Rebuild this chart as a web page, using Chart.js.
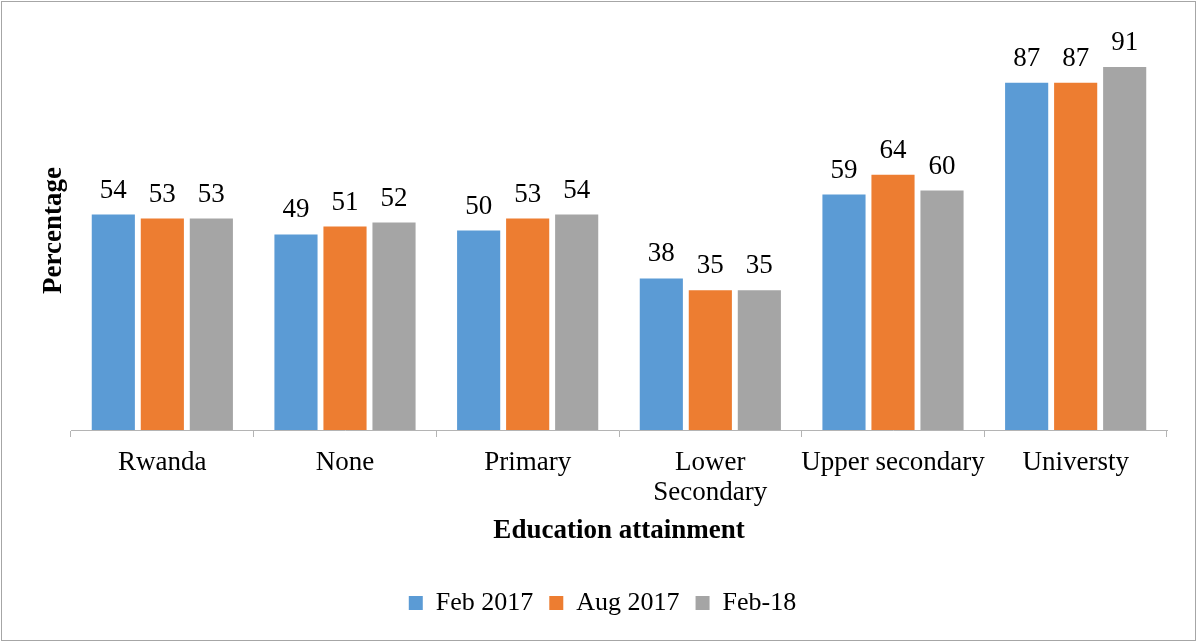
<!DOCTYPE html>
<html>
<head>
  <script src="https://cdn.jsdelivr.net/npm/chart.js@4/dist/chart.umd.min.js"></script>
  <style>
    body { margin: 0; background: #fff; }
    canvas { display: block; }
  </style>
</head>
<body>

<canvas id="eduChart" width="1197" height="642"></canvas>

<script>
var categories = ["Rwanda", "None", "Primary", ["Lower", "Secondary"], "Upper secondary", "Universty"];
var feb2017 = [54, 49, 50, 38, 59, 87];
var aug2017 = [53, 51, 53, 35, 64, 87];
var feb2018 = [53, 52, 54, 35, 60, 91];
var seriesNames = ["Feb 2017", "Aug 2017", "Feb-18"];
var seriesColors = ["#5B9BD5", "#ED7D31", "#A5A5A5"];

var serif = "'Liberation Serif', 'Times New Roman', serif";
var axisGray = "#b4b4b4";

// numbers above each bar
var barValues = {
  id: "barValues",
  afterDatasetsDraw: function(chart) {
    var ctx = chart.ctx;
    ctx.save();
    ctx.font = "27px " + serif;
    ctx.fillStyle = "#000";
    ctx.textAlign = "center";
    ctx.textBaseline = "alphabetic";
    chart.data.datasets.forEach(function(ds, i) {
      chart.getDatasetMeta(i).data.forEach(function(bar, j) {
        ctx.fillText(ds.data[j], bar.x, bar.y - 17);
      });
    });
    ctx.restore();
  }
};

// thin frame round the whole chart
var frame = {
  id: "frame",
  afterDraw: function(chart) {
    var ctx = chart.ctx;
    ctx.save();
    ctx.strokeStyle = "#a6a6a6";
    ctx.lineWidth = 1;
    ctx.strokeRect(1.5, 1.5, chart.width - 3, chart.height - 3);
    ctx.restore();
  }
};

var ctx = document.getElementById("eduChart").getContext("2d");
var eduChart = new Chart(ctx, {
  type: "bar",
  data: {
    labels: categories,
    datasets: [
      { label: seriesNames[0], data: feb2017, backgroundColor: seriesColors[0] },
      { label: seriesNames[1], data: aug2017, backgroundColor: seriesColors[1] },
      { label: seriesNames[2], data: feb2018, backgroundColor: seriesColors[2] }
    ]
  },
  options: {
    responsive: false,
    animation: false,
    categoryPercentage: 0.805,
    barPercentage: 0.88,
    layout: { padding: { top: 31, right: 30, bottom: 16, left: 38 } },
    plugins: {
      tooltip: { enabled: false },
      legend: {
        position: "bottom",
        labels: {
          boxWidth: 14,
          boxHeight: 14,
          padding: 16,
          color: "#000",
          font: { family: serif, size: 26 }
        }
      }
    },
    scales: {
      x: {
        grid: { drawOnChartArea: false, tickLength: 7, color: axisGray },
        border: { color: axisGray },
        ticks: {
          color: "#000",
          padding: 11.5,
          maxRotation: 0,
          autoSkip: false,
          font: { family: serif, size: 27, lineHeight: 1.1 }
        },
        title: {
          display: true,
          text: "Education attainment",
          color: "#000",
          padding: { top: 0, bottom: 27 },
          font: { family: serif, size: 27, weight: "bold" }
        },
        afterFit: function(axis) { axis.height = 144; }
      },
      y: {
        min: 0,
        max: 100,
        grid: { display: false },
        border: { display: false },
        ticks: { display: false },
        title: {
          display: true,
          text: "Percentage",
          color: "#000",
          padding: 0,
          font: { family: serif, size: 27, weight: "bold" }
        },
        afterFit: function(axis) { axis.width = 33; }
      }
    }
  },
  plugins: [barValues, frame]
});
</script>

</body>
</html>
